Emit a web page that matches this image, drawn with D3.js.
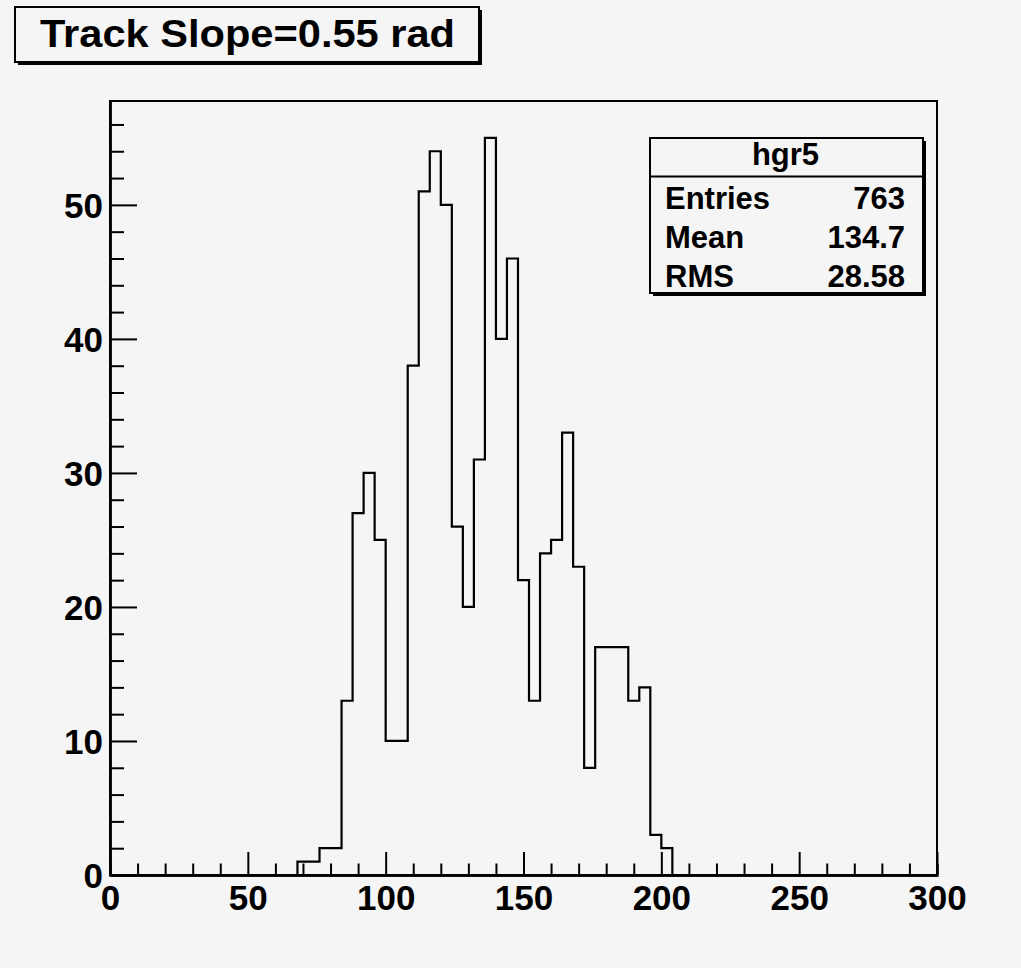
<!DOCTYPE html>
<html>
<head>
<meta charset="utf-8">
<script src="https://cdn.jsdelivr.net/npm/d3@7"></script>
<style>
  html, body { margin: 0; padding: 0; background: #f5f5f5; }
  svg { display: block; }
  text { font-family: "Liberation Sans", Arial, Helvetica, sans-serif; font-weight: bold; fill: #000; }
</style>
</head>
<body>
<script>
// ---- data ----
const binLow = [68,72,76,80,84,88,92,96,100,104,108,112,116,120,124,128,132,136,140,144,148,152,156,160,164,168,172,176,180,184,188,192,196,200];
const binWidth = 4;
const counts = [1,1,2,2,13,27,30,25,10,10,38,51,54,50,26,20,31,55,40,46,22,13,24,25,33,23,8,17,17,17,13,14,3,2];
const xMajorTicks = [0,50,100,150,200,250,300];
const xMinorTicks = [10,20,30,40,60,70,80,90,110,120,130,140,160,170,180,190,210,220,230,240,260,270,280,290];
const yMajorTicks = [0,10,20,30,40,50];
const yMinorTicks = [2,4,6,8,12,14,16,18,22,24,26,28,32,34,36,38,42,44,46,48,52,54,56];
const titleText = "Track Slope=0.55 rad";
const statsName = "hgr5";
const statsLabels = ["Entries","Mean","RMS"];
const statsValues = ["763","134.7","28.58"];
const xDomain = [0,300];
const yDomain = [0,57.75];

// ---- layout ----
const W = 1021, H = 968;
const frame = {left:110, right:937, top:101, bottom:875};
const bg = "#f5f5f5";

const svg = d3.select("body").append("svg").attr("width", W).attr("height", H);
svg.append("rect").attr("width", W).attr("height", H).attr("fill", bg);

const x = d3.scaleLinear().domain(xDomain).range([frame.left, frame.right]);
const y = d3.scaleLinear().domain(yDomain).range([frame.bottom, frame.top]);

// frame
svg.append("rect")
  .attr("x", frame.left).attr("y", frame.top)
  .attr("width", frame.right - frame.left).attr("height", frame.bottom - frame.top)
  .attr("fill", bg).attr("stroke", "#000").attr("stroke-width", 2);

// histogram outline
const pts = [[x(binLow[0]), y(0)]];
binLow.forEach((b, i) => {
  pts.push([x(b), y(counts[i])]);
  pts.push([x(b + binWidth), y(counts[i])]);
});
pts.push([x(binLow[binLow.length-1] + binWidth), y(0)]);
svg.append("path")
  .attr("d", d3.line()(pts))
  .attr("fill", "none").attr("stroke", "#000").attr("stroke-width", 2.2)
  .attr("stroke-linejoin", "miter");

// axes
function styleAxis(g) {
  g.select(".domain").attr("stroke", "#000").attr("stroke-width", 2.4);
  g.selectAll(".tick line").attr("stroke", "#000").attr("stroke-width", 2);
  g.selectAll(".tick text").attr("font-size", 35).attr("font-family", '"Liberation Sans", Arial, sans-serif').attr("font-weight", "bold").attr("fill", "#000");
}
const gxMinor = svg.append("g").attr("transform", `translate(0,${frame.bottom})`)
  .call(d3.axisBottom(x).tickValues(xMinorTicks).tickSize(-11.5).tickFormat(""));
styleAxis(gxMinor);
const gx = svg.append("g").attr("transform", `translate(0,${frame.bottom})`)
  .call(d3.axisBottom(x).tickValues(xMajorTicks).tickSize(-23).tickSizeOuter(0).tickPadding(10).tickFormat(d3.format("d")));
styleAxis(gx);

const gyMinor = svg.append("g").attr("transform", `translate(${frame.left},0)`)
  .call(d3.axisLeft(y).tickValues(yMinorTicks).tickSize(-14).tickSizeOuter(0).tickFormat(""));
styleAxis(gyMinor);
const gy = svg.append("g").attr("transform", `translate(${frame.left},0)`)
  .call(d3.axisLeft(y).tickValues(yMajorTicks).tickSize(-27).tickSizeOuter(0).tickPadding(7).tickFormat(d3.format("d")));
styleAxis(gy);
gy.selectAll(".tick text").attr("dy", "0.36em");

// title box
const tb = {x:15, y:7, w:464, h:55, sh:3};
svg.append("rect").attr("x", tb.x+tb.sh).attr("y", tb.y+tb.sh).attr("width", tb.w).attr("height", tb.h).attr("fill", "#000");
svg.append("rect").attr("x", tb.x).attr("y", tb.y).attr("width", tb.w).attr("height", tb.h)
  .attr("fill", bg).attr("stroke", "#000").attr("stroke-width", 2);
svg.append("text").attr("x", 40).attr("y", 47).attr("font-size", 38)
  .attr("textLength", 415).attr("lengthAdjust", "spacingAndGlyphs")
  .text(titleText);

// stats box
const sb = {x:650, y:138, w:273, h:155, sh:3, div:176.5};
svg.append("rect").attr("x", sb.x+sb.sh).attr("y", sb.y+sb.sh).attr("width", sb.w).attr("height", sb.h).attr("fill", "#000");
svg.append("rect").attr("x", sb.x).attr("y", sb.y).attr("width", sb.w).attr("height", sb.h)
  .attr("fill", bg).attr("stroke", "#000").attr("stroke-width", 2);
svg.append("line").attr("x1", sb.x).attr("x2", sb.x+sb.w).attr("y1", sb.div).attr("y2", sb.div)
  .attr("stroke", "#000").attr("stroke-width", 2);
svg.append("text").attr("x", sb.x + sb.w/2 - 1).attr("y", 165).attr("font-size", 31)
  .attr("text-anchor", "middle").text(statsName);
const rowY = [209, 248, 287];
statsLabels.forEach((l, i) => {
  svg.append("text").attr("x", 665).attr("y", rowY[i]).attr("font-size", 31).text(l);
  svg.append("text").attr("x", 905).attr("y", rowY[i]).attr("font-size", 31)
    .attr("text-anchor", "end").text(statsValues[i]);
});
</script>
</body>
</html>
